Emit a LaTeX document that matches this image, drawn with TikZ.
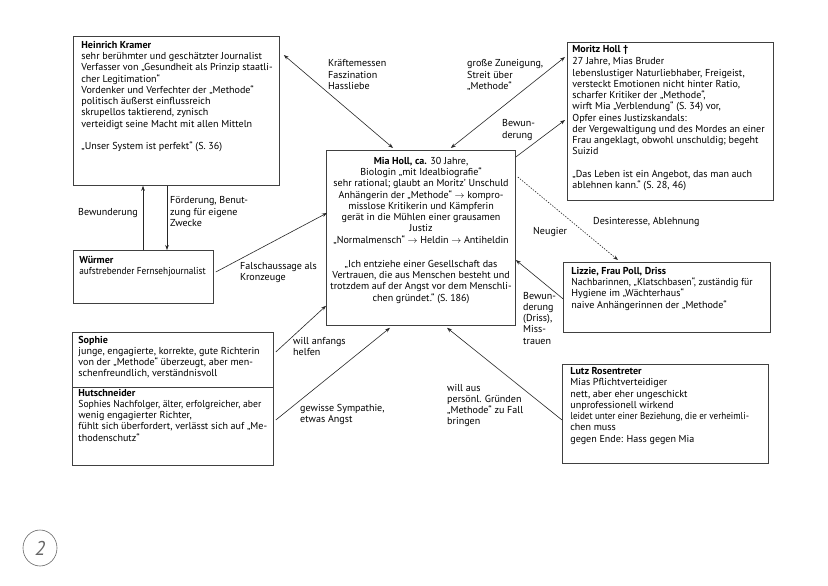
\documentclass[tikz,border=0pt]{standalone}
\usepackage{fontspec}
\usepackage{graphicx}
\setmainfont{PT Sans}
\usetikzlibrary{arrows.meta,calc,shapes.geometric}
\newcommand{\bxt}[3]{\parbox[t][#2bp][t]{#1bp}{\begin{tabular}[t]{@{}l@{}}#3\end{tabular}}}
\newcommand{\bxc}[3]{\parbox[t][#2bp][t]{#1bp}{\centering\begin{tabular}[t]{@{}c@{}}#3\end{tabular}}}
\newcommand{\lns}[1]{\begin{tabular}[t]{@{}l@{}}#1\end{tabular}}
\newcommand{\sqz}[2]{\scalebox{#1}[1]{#2}}
\begin{document}
\begin{tikzpicture}[x=1bp,y=-1bp,
  txtfont/.style={font=\fontsize{10.1}{11.3}\selectfont},
  box/.style={draw=black!75, line width=0.8bp, anchor=north west, txtfont, fill=white},
  lbl/.style={inner sep=0pt, anchor=base west, txtfont},
  tip/.style={-{Stealth[length=5bp,width=3.6bp]}},
  conn/.style={draw=black!85, line width=0.6bp},
  arr/.style={conn, tip},
  darr/.style={conn, {Stealth[length=5bp,width=3.6bp]}-{Stealth[length=5bp,width=3.6bp]}},
  dotarr/.style={conn, tip, dash pattern=on 1.4bp off 1.4bp}]
\useasboundingbox[fill=white] (0,0) rectangle (828,586);

% boxes
\node[box, inner xsep=8bp, inner ysep=4bp] (kramer) at (73,36)
  {\bxt{190}{141}{\textbf{Heinrich Kramer}\\
  sehr berühmter und geschätzter Journalist\\
  Verfasser von „Gesundheit als Prinzip staatli-\\
  cher Legitimation“\\
  Vordenker und Verfechter der „Methode“\\
  politisch äußerst einflussreich\\
  skrupellos taktierend, zynisch\\
  verteidigt seine Macht mit allen Mitteln\\[11.3bp]
  „Unser System ist perfekt“ (S. 36)}};

\node[box, inner xsep=5bp, inner ysep=1.8bp] (moritz) at (567,42)
  {\bxt{196}{154.4}{\textbf{Moritz Holl †}\\[1.5bp]
  27 Jahre, Mias Bruder\\
  lebenslustiger Naturliebhaber, Freigeist,\\
  versteckt Emotionen nicht hinter Ratio,\\
  scharfer Kritiker der „Methode“,\\
  wirft Mia „Verblendung“ (S. 34) vor,\\
  Opfer eines Justizskandals:\\
  der Vergewaltigung und des Mordes an einer\\
  Frau angeklagt, obwohl unschuldig; begeht\\
  Suizid\\[11.3bp]
  „Das Leben ist ein Angebot, das man auch\\
  ablehnen kann.“ (S. 28, 46)}};

\node[box, inner xsep=4bp, inner ysep=6.1bp] (mia) at (326,150)
  {\bxc{181}{162.8}{\textbf{Mia Holl, ca.} 30 Jahre,\\
  Biologin „mit Idealbiografie“\\
  sehr rational; glaubt an Moritz’ Unschuld\\
  Anhängerin der „Methode“ $\rightarrow$ kompro-\\
  misslose Kritikerin und Kämpferin\\
  gerät in die Mühlen einer grausamen\\
  Justiz\\
  „Normalmensch“ $\rightarrow$ Heldin $\rightarrow$ Antiheldin\\[13bp]
  „Ich entziehe einer Gesellschaft das\\
  Vertrauen, die aus Menschen besteht und\\
  trotzdem auf der Angst vor dem Menschli-\\
  chen gründet.“ (S. 186)}};

\node[box, inner xsep=6bp, inner ysep=4.8bp] (wuermer) at (73,250)
  {\bxt{128}{43.4}{\textbf{Würmer}\\
  \sqz{0.92}{aufstrebender Fernsehjournalist}}};

\node[box, inner xsep=8bp, inner ysep=4.1bp] (lizzie) at (563,262)
  {\bxt{191}{61.8}{\textbf{Lizzie, Frau Poll, Driss}\\
  \sqz{0.96}{Nachbarinnen, „Klatschbasen“, zuständig für}\\
  Hygiene im „Wächterhaus“\\
  naive Anhängerinnen der „Methode“}};

\node[box, inner xsep=6bp, inner ysep=2.8bp] (sophie) at (72,332)
  {\bxt{189}{49.4}{\textbf{Sophie}\\
  junge, engagierte, korrekte, gute Richterin\\
  von der „Methode“ überzeugt, aber men-\\
  schenfreundlich, verständnisvoll}};

\node[box, inner xsep=6bp, inner ysep=0.8bp] (hutschneider) at (72,387)
  {\bxt{189}{76.4}{\textbf{Hutschneider}\\
  \sqz{0.96}{Sophies Nachfolger, älter, erfolgreicher, aber}\\
  wenig engagierter Richter,\\
  fühlt sich überfordert, verlässt sich auf „Me-\\
  thodenschutz“}};

\node[box, inner xsep=8bp, inner ysep=2.4bp] (lutz) at (562,364)
  {\bxt{190}{94.2}{\textbf{Lutz Rosentreter}\\
  Mias Pflichtverteidiger\\
  nett, aber eher ungeschickt\\
  unprofessionell wirkend\\
  \sqz{0.9}{leidet unter einer Beziehung, die er verheimli-}\\
  chen muss\\
  gegen Ende: Hass gegen Mia}};

% connectors
\draw[darr] ($(kramer.north east)+(4,19)$) -- ($(mia.north west)+(67,-2)$);
\draw[darr] ($(mia.north east)+(-65,-2)$) -- ($(moritz.north west)+(-2,15)$);
\draw[arr] ($(mia.north east)+(0,7)$) -- ($(moritz.north west)+(-2,78)$);
\draw[dotarr] ($(mia.north east)+(2,27)$) -- ($(lizzie.north west)+(55,-2)$);
\draw[arr] ($(lizzie.south west)+(0,-34)$) -- ($(mia.north east)+(0,110)$);
\draw[arr] ($(wuermer.north west)+(70,0)$) -- ($(kramer.south west)+(70,0)$);
\draw[arr] ($(kramer.south west)+(94,0)$) -- ($(wuermer.north west)+(94,0)$);
\draw[arr] ($(wuermer.north east)+(2,22)$) -- ($(mia.north west)+(1,63)$);
\draw[arr] ($(sophie.north east)+(2,20)$) -- ($(mia.south west)+(0,-20)$);
\draw[arr] ($(hutschneider.north east)+(2,33)$) -- ($(mia.south west)+(64,2)$);
\draw[arr] ($(lutz.north west)+(0,56)$) -- ($(mia.south west)+(121,2)$);

% labels
\node[lbl] (l1) at (328,67) {\lns{Kräftemessen\\Faszination\\Hassliebe}};
\node[lbl] (l2) at (467,67) {\lns{große Zuneigung,\\Streit über\\„Methode“}};
\node[lbl] (l3) at (502,127) {\lns{Bewun-\\derung}};
\node[lbl] (l4) at (533,235) {\lns{Neugier}};
\node[lbl] (l5) at (593,225) {\lns{Desinteresse, Ablehnung}};
\node[lbl] (l6) at (523,299) {\lns{Bewun-\\derung\\(Driss),\\Miss-\\trauen}};
\node[lbl] (l7) at (78,216) {\lns{Bewunderung}};
\node[lbl] (l8) at (170,204) {\lns{Förderung, Benut-\\zung für eigene\\Zwecke}};
\node[lbl] (l9) at (240,269) {\lns{Falschaussage als\\Kronzeuge}};
\node[lbl] (l10) at (293,344) {\lns{will anfangs\\helfen}};
\node[lbl] (l11) at (300,411) {\lns{gewisse Sympathie,\\etwas Angst}};
\node[lbl] (l12) at (447,391) {\lns{will aus\\persönl. Gründen\\„Methode“ zu Fall\\bringen}};

% handwritten page mark
\node[draw=black!60, line width=0.6bp, ellipse, minimum width=34bp, minimum height=36bp, inner sep=0pt, text=black!60, font=\fontsize{20}{20}\selectfont\itshape] (pagemark) at (40,548) {2};
\end{tikzpicture}
\end{document}
